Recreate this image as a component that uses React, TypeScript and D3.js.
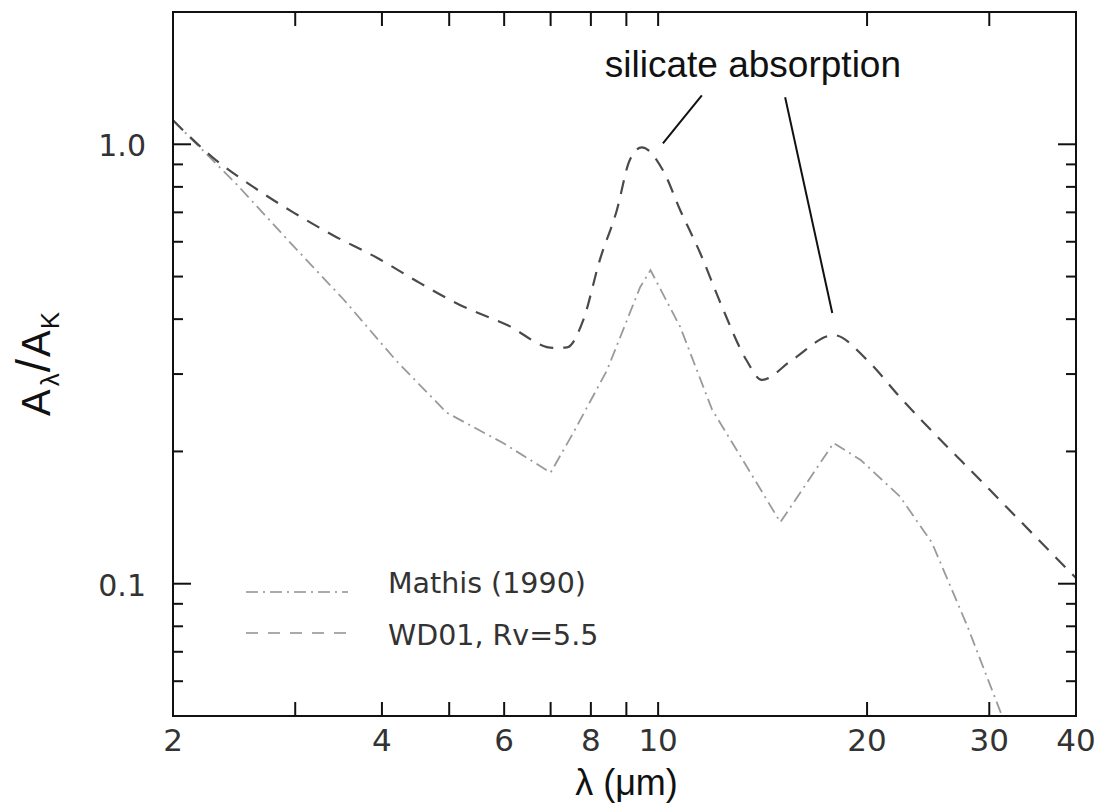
import React from "react";
import * as d3 from "d3";

// ---- data ----
const wd01Lambda = [2.0, 2.28, 2.61, 2.98, 3.40, 3.94, 4.54, 5.18, 6.06, 7.06, 7.39, 7.80, 8.24, 8.72, 9.10, 9.47, 10.16, 10.76, 11.5, 12.3, 13.4, 14.1, 15.6, 17.9, 20.0, 22.3, 30.0, 40.0];
const wd01A = [1.134, 0.934, 0.80, 0.70, 0.621, 0.551, 0.483, 0.431, 0.388, 0.344, 0.345, 0.398, 0.545, 0.708, 0.92, 0.984, 0.873, 0.708, 0.565, 0.435, 0.323, 0.291, 0.323, 0.368, 0.323, 0.266, 0.164, 0.103];

const mathisLambda = [2.0, 2.47, 2.92, 3.52, 4.20, 4.96, 5.98, 7.0, 7.54, 8.44, 9.42, 9.75, 10.76, 11.96, 13.7, 15.0, 17.9, 19.6, 22.3, 24.8, 27.9, 31.3];
const mathisA = [1.134, 0.811, 0.608, 0.444, 0.321, 0.245, 0.209, 0.179, 0.220, 0.306, 0.473, 0.517, 0.384, 0.249, 0.175, 0.138, 0.209, 0.191, 0.158, 0.124, 0.080, 0.050];

const xTickValues = [2, 3, 4, 5, 6, 7, 8, 9, 10, 20, 30, 40];
const xTickLabels = [2, 4, 6, 8, 10, 20, 30, 40];
const yMajorTicks = [0.1, 1.0];
const yMajorLabels = ["0.1", "1.0"];
const yMinorTicks = [0.06, 0.07, 0.08, 0.09, 0.2, 0.3, 0.4, 0.5, 0.6, 0.7, 0.8, 0.9];

const seriesNames = ["Mathis (1990)", "WD01, Rv=5.5"];

const annotationText = "silicate absorption";
const annotationAnchor = [8.38, 1.42];
const pointerFrom = [[11.56, 1.292], [15.24, 1.279]];
const pointerTo = [[10.16, 1.005], [17.82, 0.413]];

const xDomain = [2, 40];
const yDomain = [0.05, 2];

// ---- layout ----
const W = 1104;
const H = 811;
const L = 173, R = 1076, T = 12, B = 716;

export default function App() {
  const x = d3.scaleLog().domain(xDomain).range([L, R]);
  const y = d3.scaleLog().domain(yDomain).range([B, T]);

  const wd = wd01Lambda.map((l, i) => [l, wd01A[i]] as [number, number]);
  const ma = mathisLambda.map((l, i) => [l, mathisA[i]] as [number, number]);

  const smoothLine = d3
    .line<[number, number]>()
    .x((d) => x(d[0]))
    .y((d) => y(d[1]))
    .curve(d3.curveMonotoneX);
  const straightLine = d3
    .line<[number, number]>()
    .x((d) => x(d[0]))
    .y((d) => y(d[1]))
    .curve(d3.curveLinear);

  const tickFont = "'DejaVu Sans', sans-serif";
  const helv = "'Liberation Sans', Arial, sans-serif";

  return (
    <svg
      width={W}
      height={H}
      viewBox={`0 0 ${W} ${H}`}
      style={{ position: "absolute", left: 0, top: 0, background: "#fff" }}
    >
      <defs>
        <clipPath id="plotclip">
          <rect x={L} y={T} width={R - L} height={B - T} />
        </clipPath>
      </defs>
      <rect x={0} y={0} width={W} height={H} fill="#fff" />

      {/* curves */}
      <g clipPath="url(#plotclip)" fill="none">
        <path d={straightLine(ma) || ""} stroke="#9a9a9a" strokeWidth={1.8} strokeDasharray="12,5,2,5" />
        <path d={smoothLine(wd) || ""} stroke="#4a4a4a" strokeWidth={2.2} strokeDasharray="14,10" />
      </g>

      {/* frame */}
      <rect x={L} y={T} width={R - L} height={B - T} fill="none" stroke="#111" strokeWidth={2} />

      {/* x ticks */}
      {xTickValues.map((v) => (
        <g key={"xt" + v} stroke="#111" strokeWidth={2}>
          <line x1={x(v)} x2={x(v)} y1={B} y2={B - 14} />
          <line x1={x(v)} x2={x(v)} y1={T} y2={T + 14} />
        </g>
      ))}
      {xTickLabels.map((v) => (
        <text
          key={"xl" + v}
          x={x(v)}
          y={751}
          textAnchor="middle"
          fontFamily={tickFont}
          fontSize={31}
          fill="#333"
        >
          {v}
        </text>
      ))}

      {/* y ticks */}
      {yMajorTicks.map((v) => (
        <g key={"ym" + v} stroke="#111" strokeWidth={2}>
          <line x1={L} x2={L + 18} y1={y(v)} y2={y(v)} />
          <line x1={R} x2={R - 18} y1={y(v)} y2={y(v)} />
        </g>
      ))}
      {yMinorTicks.map((v) => (
        <g key={"yn" + v} stroke="#111" strokeWidth={2}>
          <line x1={L} x2={L + 10} y1={y(v)} y2={y(v)} />
          <line x1={R} x2={R - 10} y1={y(v)} y2={y(v)} />
        </g>
      ))}
      {yMajorTicks.map((v, i) => (
        <text
          key={"yl" + v}
          x={146}
          y={y(v) + 12}
          textAnchor="end"
          fontFamily={tickFont}
          fontSize={30}
          fill="#333"
        >
          {yMajorLabels[i]}
        </text>
      ))}

      {/* axis titles */}
      <text x={(L + R) / 2 + 2} y={795} textAnchor="middle" fontFamily={helv} fontSize={36} fill="#111">
        λ (μm)
      </text>
      <text
        transform="translate(50,364) rotate(-90)"
        textAnchor="middle"
        fontFamily="'Liberation Sans Narrow', 'Liberation Sans', Arial, sans-serif"
        fontSize={40}
        fill="#111"
      >
        <tspan>A</tspan>
        <tspan fontSize={26} dy={9} dx={3}>λ</tspan>
        <tspan fontSize={48} dy={-9} dx={1}>/</tspan>
        <tspan dx={2}>A</tspan>
        <tspan fontSize={26} dy={9} dx={1}>K</tspan>
      </text>

      {/* annotation */}
      <text
        x={x(annotationAnchor[0])}
        y={y(annotationAnchor[1])}
        fontFamily={helv}
        fontSize={37}
        fill="#111"
      >
        {annotationText}
      </text>
      {pointerFrom.map((p, i) => (
        <line
          key={"ptr" + i}
          x1={x(p[0])}
          y1={y(p[1])}
          x2={x(pointerTo[i][0])}
          y2={y(pointerTo[i][1])}
          stroke="#111"
          strokeWidth={2}
        />
      ))}

      {/* legend */}
      <g>
        <line x1={246} x2={348} y1={592} y2={592} stroke="#aaa" strokeWidth={1.8} strokeDasharray="12,5,2,5" />
        <text x={388} y={593} fontFamily={tickFont} fontSize={28.5} fill="#333">
          {seriesNames[0]}
        </text>
        <line x1={246} x2={348} y1={633} y2={633} stroke="#aaa" strokeWidth={1.8} strokeDasharray="12,10" />
        <text x={388} y={645} fontFamily={tickFont} fontSize={28.5} fill="#333">
          {seriesNames[1]}
        </text>
      </g>
    </svg>
  );
}
